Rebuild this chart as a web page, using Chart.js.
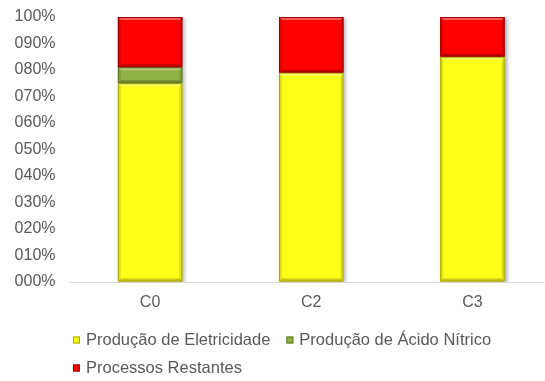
<!DOCTYPE html>
<html>
<head>
<meta charset="utf-8">
<script src="https://cdn.jsdelivr.net/npm/chart.js@4/dist/chart.umd.min.js"></script>
<style>
  html, body { margin: 0; padding: 0; background: #fff; overflow: hidden; }
  #wrap { width: 556px; height: 381px; }
</style>
</head>
<body>
<div id="wrap"><canvas id="c"></canvas></div>
<script>
const categories = ['C0', 'C2', 'C3'];
const eletricidade = [75, 79, 85];
const acidoNitrico = [6, 0, 0];
const restantes = [19, 21, 15];
const yTicks = [0, 10, 20, 30, 40, 50, 60, 70, 80, 90, 100];

const seriesNames = ['Produção de Eletricidade', 'Produção de Ácido Nítrico', 'Processos Restantes'];
const fills = ['#FFFF1A', '#93B245', '#FF0000'];
const edges = ['#A8A800', '#5E7A22', '#9A0000'];
const TEXT = '#595959';
const FONT = "'Liberation Sans', Arial, sans-serif";

// Beveled look: lighter top band, darker bottom band and sides
const bevel = {
  id: 'bevel',
  afterDatasetsDraw(chart) {
    const ctx = chart.ctx;
    chart.data.datasets.forEach((ds, di) => {
      chart.getDatasetMeta(di).data.forEach((bar, i) => {
        if (!ds.data[i]) return;
        const p = bar.getProps(['x', 'y', 'base', 'width'], true);
        const l = p.x - p.width / 2, r = p.x + p.width / 2;
        const t = Math.min(p.y, p.base), b = Math.max(p.y, p.base);
        const e = 3;
        ctx.save();
        ctx.fillStyle = 'rgba(255,255,255,0.35)';
        ctx.beginPath();
        ctx.moveTo(l, t); ctx.lineTo(r, t); ctx.lineTo(r - e, t + e); ctx.lineTo(l + e, t + e); ctx.closePath();
        ctx.fill();
        ctx.fillStyle = 'rgba(0,0,0,0.22)';
        ctx.beginPath();
        ctx.moveTo(l, b); ctx.lineTo(r, b); ctx.lineTo(r - e, b - e); ctx.lineTo(l + e, b - e); ctx.closePath();
        ctx.fill();
        ctx.fillStyle = 'rgba(0,0,0,0.12)';
        ctx.beginPath();
        ctx.moveTo(l, t); ctx.lineTo(l + e, t + e); ctx.lineTo(l + e, b - e); ctx.lineTo(l, b); ctx.closePath();
        ctx.fill();
        ctx.beginPath();
        ctx.moveTo(r, t); ctx.lineTo(r - e, t + e); ctx.lineTo(r - e, b - e); ctx.lineTo(r, b); ctx.closePath();
        ctx.fill();
        ctx.strokeStyle = edges[di];
        ctx.lineWidth = 1;
        ctx.strokeRect(l + 0.5, t + 0.5, p.width - 1, b - t - 1);
        ctx.restore();
      });
    });
  }
};

// Soft shadow to the right of the bars
const shadow = {
  id: 'shadow',
  beforeDatasetsDraw(chart) {
    const ctx = chart.ctx;
    ctx.save();
    ctx.shadowColor = 'rgba(0,0,0,0.35)';
    ctx.shadowBlur = 4;
    ctx.shadowOffsetX = 2;
    ctx.shadowOffsetY = 1;
  },
  afterDatasetsDraw(chart) { chart.ctx.restore(); }
};

// Left-aligned legend under the axis labels
const legendBelow = {
  id: 'legendBelow',
  afterDraw(chart) {
    const ctx = chart.ctx;
    ctx.save();
    ctx.font = '16.5px ' + FONT;
    ctx.textBaseline = 'middle';
    const rows = [[0, 1], [2]];
    const rowY = [340, 368];
    rows.forEach((row, ri) => {
      let x = 73;
      row.forEach(di => {
        ctx.fillStyle = fills[di];
        ctx.fillRect(x, rowY[ri] - 3.5, 7, 7);
        ctx.strokeStyle = edges[di];
        ctx.lineWidth = 1;
        ctx.strokeRect(x + 0.5, rowY[ri] - 3, 6, 6);
        ctx.fillStyle = TEXT;
        ctx.fillText(seriesNames[di], x + 13, rowY[ri]);
        x += 13 + ctx.measureText(seriesNames[di]).width + 16;
      });
    });
    ctx.restore();
  }
};

const series = [eletricidade, acidoNitrico, restantes];

new Chart(document.getElementById('c'), {
  type: 'bar',
  data: {
    labels: categories,
    datasets: series.map((vals, i) => ({
      label: seriesNames[i],
      data: vals,
      backgroundColor: fills[i],
      borderWidth: 0,
      categoryPercentage: 0.4,
      barPercentage: 1
    }))
  },
  options: {
    responsive: true,
    maintainAspectRatio: false,
    animation: false,
    layout: { padding: { top: 17, right: 3, left: 0, bottom: 0 } },
    plugins: { legend: { display: false }, tooltip: { enabled: false } },
    scales: {
      x: {
        stacked: true,
        grid: { display: false, drawTicks: false },
        border: { display: true, color: '#D9D9D9', width: 1 },
        ticks: { color: TEXT, font: { size: 16, family: FONT }, padding: 11 },
        afterFit(s) { s.height = 99; }
      },
      y: {
        stacked: true,
        min: 0,
        max: 100,
        afterBuildTicks(s) { s.ticks = yTicks.map(v => ({ value: v })); },
        grid: { display: true, color: 'rgba(0,0,0,0)', drawOnChartArea: false, drawTicks: true, tickLength: 14 },
        border: { display: false },
        ticks: {
          color: TEXT,
          font: { size: 16, family: FONT },
          padding: 0,
          callback: v => String(v).padStart(3, '0') + '%'
        },
        afterFit(s) { s.width = 69.5; }
      }
    }
  },
  plugins: [shadow, bevel, legendBelow]
});
</script>
</body>
</html>
